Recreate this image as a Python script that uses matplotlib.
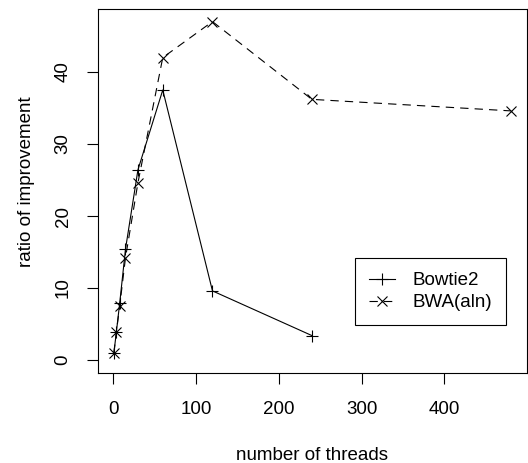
#!/usr/bin/env python3
"""ratio of improvement vs number of threads, Bowtie2 vs BWA(aln)"""
import matplotlib
matplotlib.use('Agg')
import matplotlib.pyplot as plt

threads = [1, 4, 8, 15, 30, 60, 120, 240, 480]
bowtie2 = [1.0, 3.9, 7.9, 15.4, 26.4, 37.5, 9.6, 3.4]
bwa_aln = [1.0, 3.9, 7.5, 14.2, 24.6, 42.0, 47.0, 36.2, 34.6]

plt.rcParams['font.family'] = ['Liberation Sans', 'DejaVu Sans']
fs = 13.5

fig = plt.figure(figsize=(5.28, 4.63), dpi=100)
ax = fig.add_axes([0.1856, 0.1944, 0.8116, 0.7862])

# bowtie2 has no 480-thread run
ax.plot(threads[:len(bowtie2)], bowtie2, color='black', lw=0.8,
        marker='+', markersize=8, markeredgewidth=0.8, label='Bowtie2')
ax.plot(threads, bwa_aln, color='black', lw=0.8, linestyle=(0, (7.5, 5.5)),
        marker='x', markersize=6.5, markeredgewidth=0.8, label='BWA(aln)')

ax.set_xlim(-18.2, 499.2)
ax.set_ylim(-1.8, 48.75)
ax.set_xticks([0, 100, 200, 300, 400])
ax.set_yticks([0, 10, 20, 30, 40])
ax.tick_params(axis='both', direction='out', length=8, width=0.8,
               labelsize=fs, colors='black')
ax.tick_params(axis='x', pad=12)
ax.tick_params(axis='y', pad=11, labelrotation=90)
for lbl in ax.get_yticklabels():
    lbl.set_va('center')
for sp in ax.spines.values():
    sp.set_linewidth(0.8)

ax.set_xlabel('number of threads', fontsize=fs)
ax.xaxis.set_label_coords(0.5, -0.2253)
ax.xaxis.label.set_va('center')
ax.set_ylabel('ratio of improvement', fontsize=fs)
ax.yaxis.set_label_coords(-0.1657, 0.5246)
ax.yaxis.label.set_va('center')

leg = ax.legend(loc='upper left', bbox_to_anchor=(0.5998, 0.316),
                fontsize=fs, numpoints=1, handlelength=1.4,
                handletextpad=0.9, labelspacing=0.27, borderpad=0.75,
                borderaxespad=0, fancybox=False, framealpha=1,
                edgecolor='black')
leg.get_frame().set_linewidth(0.8)

fig.savefig('out.png', dpi=100)
